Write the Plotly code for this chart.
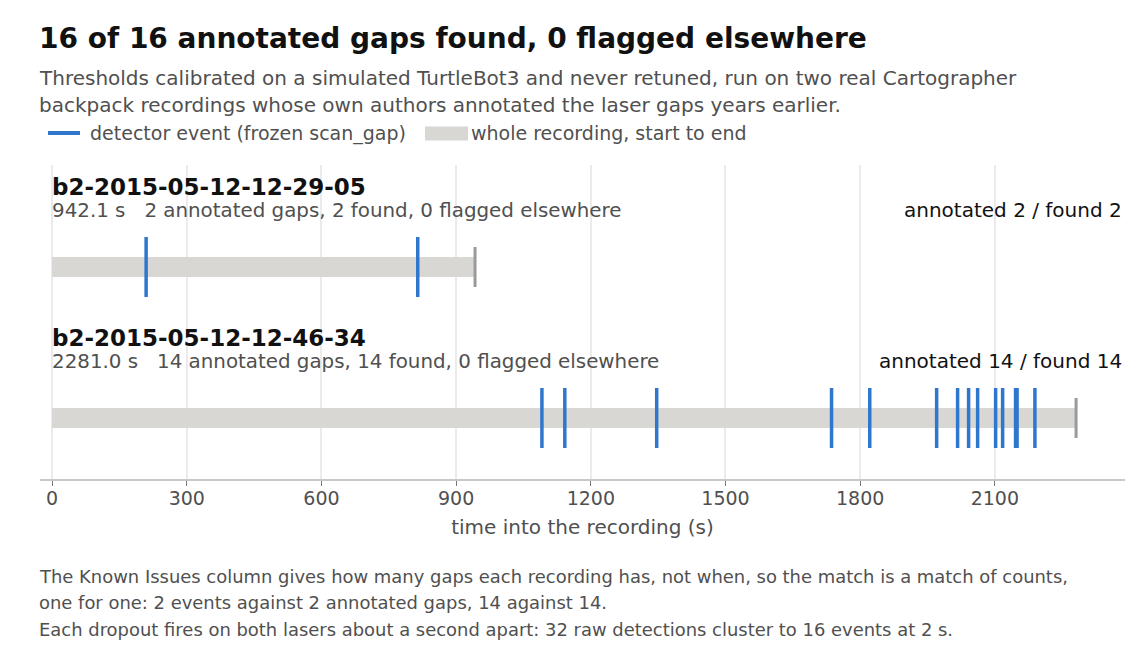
import plotly.graph_objects as go

# recordings and detector events (seconds into each recording)
recordings = ["b2-2015-05-12-12-29-05", "b2-2015-05-12-12-46-34"]
durations = [942.1, 2281.0]
annotated = [2, 14]
found = [2, 14]
flagged = [0, 0]
events = [
    [209.4, 814.5],
    [1091.1, 1142.1, 1346.8, 1736.3, 1821.4, 1970.4, 2017.1, 2041.6,
     2061.7, 2101.8, 2117.4, 2146.2, 2149.6, 2189.3],
]
x_ticks = [0, 300, 600, 900, 1200, 1500, 1800, 2100]

title = "16 of 16 annotated gaps found, 0 flagged elsewhere"
subtitle = ["Thresholds calibrated on a simulated TurtleBot3 and never retuned, run on two real Cartographer",
            "backpack recordings whose own authors annotated the laser gaps years earlier."]
footer = ["The Known Issues column gives how many gaps each recording has, not when, so the match is a match of counts,",
          "one for one: 2 events against 2 annotated gaps, 14 against 14.",
          "Each dropout fires on both lasers about a second apart: 32 raw detections cluster to 16 events at 2 s."]
legend_event = "detector event (frozen scan_gap)"
legend_bar = "whole recording, start to end"

FONT = "DejaVu Sans"
BLUE = "#2f77cc"
BAR = "#d8d7d3"
GREY_TXT = "#505050"

W, H = 1140, 660
M_L, M_R, M_T, M_B = 40, 15, 165, 181
PLOT_W = W - M_L - M_R
PLOT_H = H - M_T - M_B  # y axis in pixel units


def py(px):
    """pixel row in the page -> paper y"""
    return (H - M_B - px) / PLOT_H


def pxx(px):
    """pixel column in the page -> paper x"""
    return (px - M_L) / PLOT_W


row_centers = [PLOT_H - (267 - M_T), PLOT_H - (418 - M_T)]

fig = go.Figure()

fig.add_trace(go.Bar(
    y=row_centers, x=durations, base=[0] * len(durations), orientation="h",
    width=20, marker=dict(color=BAR, line=dict(width=0)),
    name=legend_bar, hoverinfo="skip",
))

ex, ey = [], []
for c, evs in zip(row_centers, events):
    for t in evs:
        ex += [t, t, None]
        ey += [c - 30, c + 30, None]
fig.add_trace(go.Scatter(
    x=ex, y=ey, mode="lines", line=dict(color=BLUE, width=3.5),
    name=legend_event,
))

mx, my = [], []
for c, d in zip(row_centers, durations):
    mx += [d, d, None]
    my += [c - 20, c + 20, None]
fig.add_trace(go.Scatter(
    x=mx, y=my, mode="lines", line=dict(color="#9a9a9a", width=3),
    hoverinfo="skip",
))

ann = []
for c, name, d, a, f, fl in zip(row_centers, recordings, durations, annotated, found, flagged):
    ann.append(dict(x=0, y=c, xref="x", yref="y", yshift=80, text="<b>%s</b>" % name,
                    showarrow=False, xanchor="left", yanchor="middle", xshift=-2,
                    font=dict(size=23, color="#111111")))
    ann.append(dict(x=0, y=c, xref="x", yref="y", yshift=57, xshift=-2,
                    text="%.1f s   %d annotated gaps, %d found, %d flagged elsewhere" % (d, a, f, fl),
                    showarrow=False, xanchor="left", yanchor="middle",
                    font=dict(size=19.85, color=GREY_TXT)))
    ann.append(dict(x=1, y=c, xref="paper", yref="y", yshift=57, xshift=-1,
                    text="annotated %d / found %d" % (a, f),
                    showarrow=False, xanchor="right", yanchor="middle",
                    font=dict(size=20, color="#111111")))

ann.append(dict(x=pxx(37), y=py(38), xref="paper", yref="paper", text="<b>%s</b>" % title,
                showarrow=False, xanchor="left", yanchor="middle",
                font=dict(size=28, color="#111111")))
for i, line in enumerate(subtitle):
    ann.append(dict(x=pxx(37), y=py(78 + 27 * i), xref="paper", yref="paper", text=line,
                    showarrow=False, xanchor="left", yanchor="middle",
                    font=dict(size=20, color=GREY_TXT)))
for i, line in enumerate(footer):
    ann.append(dict(x=pxx(37), y=py(576 + 26.5 * i), xref="paper", yref="paper", text=line,
                    showarrow=False, xanchor="left", yanchor="middle",
                    font=dict(size=17.95, color=GREY_TXT)))

# legend drawn by hand so the swatches match the marks
shapes = [
    dict(type="line", xref="paper", yref="paper", x0=pxx(48), x1=pxx(80), y0=py(133), y1=py(133),
         line=dict(color=BLUE, width=4)),
    dict(type="rect", xref="paper", yref="paper", x0=pxx(425), x1=pxx(468), y0=py(126.5), y1=py(140.5),
         fillcolor=BAR, line=dict(width=0)),
]
ann.append(dict(x=pxx(88), y=py(133), xref="paper", yref="paper", text=legend_event,
                showarrow=False, xanchor="left", yanchor="middle",
                font=dict(size=19, color=GREY_TXT)))
ann.append(dict(x=pxx(469), y=py(133), xref="paper", yref="paper", text=legend_bar,
                showarrow=False, xanchor="left", yanchor="middle",
                font=dict(size=19, color=GREY_TXT)))

fig.update_layout(
    width=W, height=H,
    margin=dict(l=M_L, r=M_R, t=M_T, b=M_B),
    paper_bgcolor="white", plot_bgcolor="white",
    font=dict(family=FONT, color=GREY_TXT, size=18),
    showlegend=False,
    xaxis=dict(range=[-27, 2390], tickvals=x_ticks, showgrid=True, gridcolor="#ebebeb",
               gridwidth=1.5,
               zeroline=False, showline=True, linecolor="#c8c8c8", linewidth=1.5,
               ticks="outside", ticklen=5, tickcolor="#777777", tickwidth=1,
               ticklabelstandoff=-4,
               tickfont=dict(size=19, color=GREY_TXT),
               title=dict(text="time into the recording (s)", font=dict(size=20, color=GREY_TXT),
                          standoff=12)),
    yaxis=dict(range=[0, PLOT_H], visible=False, fixedrange=True),
    annotations=ann,
    shapes=shapes,
    bargap=0,
)

fig.write_html("out.html", config={"displayModeBar": False},
               post_script="document.body.style.margin='0';")
